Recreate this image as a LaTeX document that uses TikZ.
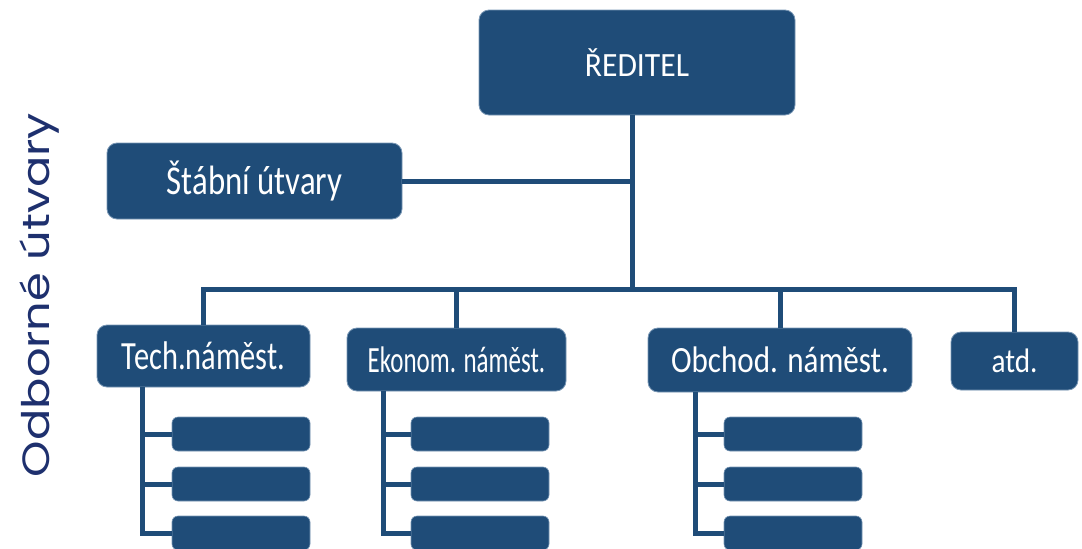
\documentclass[tikz,border=0pt]{standalone}
\usepackage{fontspec}
\usepackage{graphicx}
\setmainfont{Carlito}
\newfontfamily\sidefont{Poppins}
\definecolor{boxblue}{RGB}{31,76,120}
\definecolor{edgeblue}{RGB}{120,150,180}
\definecolor{navy}{RGB}{30,48,110}
% horizontally squeezed label text
\newcommand\hsq[2]{\scalebox{#1}[1]{#2}}
\newcommand\fsz[1]{\fontsize{#1}{#1}\selectfont}
\tikzset{
  unitbox/.style={draw=edgeblue, line width=0.8pt, fill=boxblue, rounded corners=10pt,
    text=white, inner sep=0pt, anchor=center},
  subbox/.style={draw=edgeblue, line width=0.6pt, fill=boxblue, rounded corners=6pt,
    minimum width=138pt, minimum height=34pt, inner sep=0pt, anchor=center},
  conn/.style={draw=boxblue, line width=5pt},
}
\begin{document}
\begin{tikzpicture}[x=1pt,y=-1pt]
\useasboundingbox (0,0) rectangle (1082,549);
% main units
\node[unitbox, minimum width=316pt, minimum height=105pt, font=\fsz{34}] (red) at (637,62.5) {\hsq{0.93}{ŘEDITEL}};
\node[unitbox, minimum width=295pt, minimum height=76pt, font=\fsz{41}] (stab) at (254.5,181) {\hsq{0.8}{Štábní útvary}};
\node[unitbox, minimum width=213pt, minimum height=62pt, font=\fsz{40}] (tech) at (203.5,356) {\hsq{0.76}{Tech.náměst.}};
\node[unitbox, minimum width=219pt, minimum height=63pt, font=\fsz{37}] (ekon) at (456.5,359.5) {\hsq{0.675}{Ekonom. náměst.}};
\node[unitbox, minimum width=264pt, minimum height=64pt, font=\fsz{37}] (obch) at (780,360) {\hsq{0.84}{Obchod. náměst.}};
\node[unitbox, minimum width=127pt, minimum height=58pt, font=\fsz{34}] (atd) at (1014.5,361) {\hsq{0.86}{atd.}};
% bus and trunk
\coordinate (bus) at (632,289);
\draw[conn] (red.south -| bus) -- (bus);
\draw[conn] (stab.east) -- (stab.east -| bus);
\draw[conn] (tech.north) -- (tech.north |- bus) -- (atd.north |- bus) -- (atd.north);
\draw[conn] (ekon.north |- bus) -- (ekon.north);
\draw[conn] (obch.north |- bus) -- (obch.north);
% subordinate units
\node[subbox] (t1) at (241,434) {};
\node[subbox] (t2) at (241,484) {};
\node[subbox] (t3) at (241,533) {};
\node[subbox] (e1) at (480,434) {};
\node[subbox] (e2) at (480,484) {};
\node[subbox] (e3) at (480,533) {};
\node[subbox] (o1) at (793,434) {};
\node[subbox] (o2) at (793,484) {};
\node[subbox] (o3) at (793,533) {};
\coordinate (tsp) at (142,0);
\coordinate (esp) at (383,0);
\coordinate (osp) at (695,0);
\draw[conn] (tech.south -| tsp) |- (t3.west);
\draw[conn] (t1.west -| tsp) -- (t1.west);
\draw[conn] (t2.west -| tsp) -- (t2.west);
\draw[conn] (ekon.south -| esp) |- (e3.west);
\draw[conn] (e1.west -| esp) -- (e1.west);
\draw[conn] (e2.west -| esp) -- (e2.west);
\draw[conn] (obch.south -| osp) |- (o3.west);
\draw[conn] (o1.west -| osp) -- (o1.west);
\draw[conn] (o2.west -| osp) -- (o2.west);
% side caption
\node[rotate=90, text=navy, font=\sidefont\fsz{38}, anchor=center] (side) at (40,295) {\hsq{1.22}{Odborné útvary}};
\end{tikzpicture}
\end{document}
